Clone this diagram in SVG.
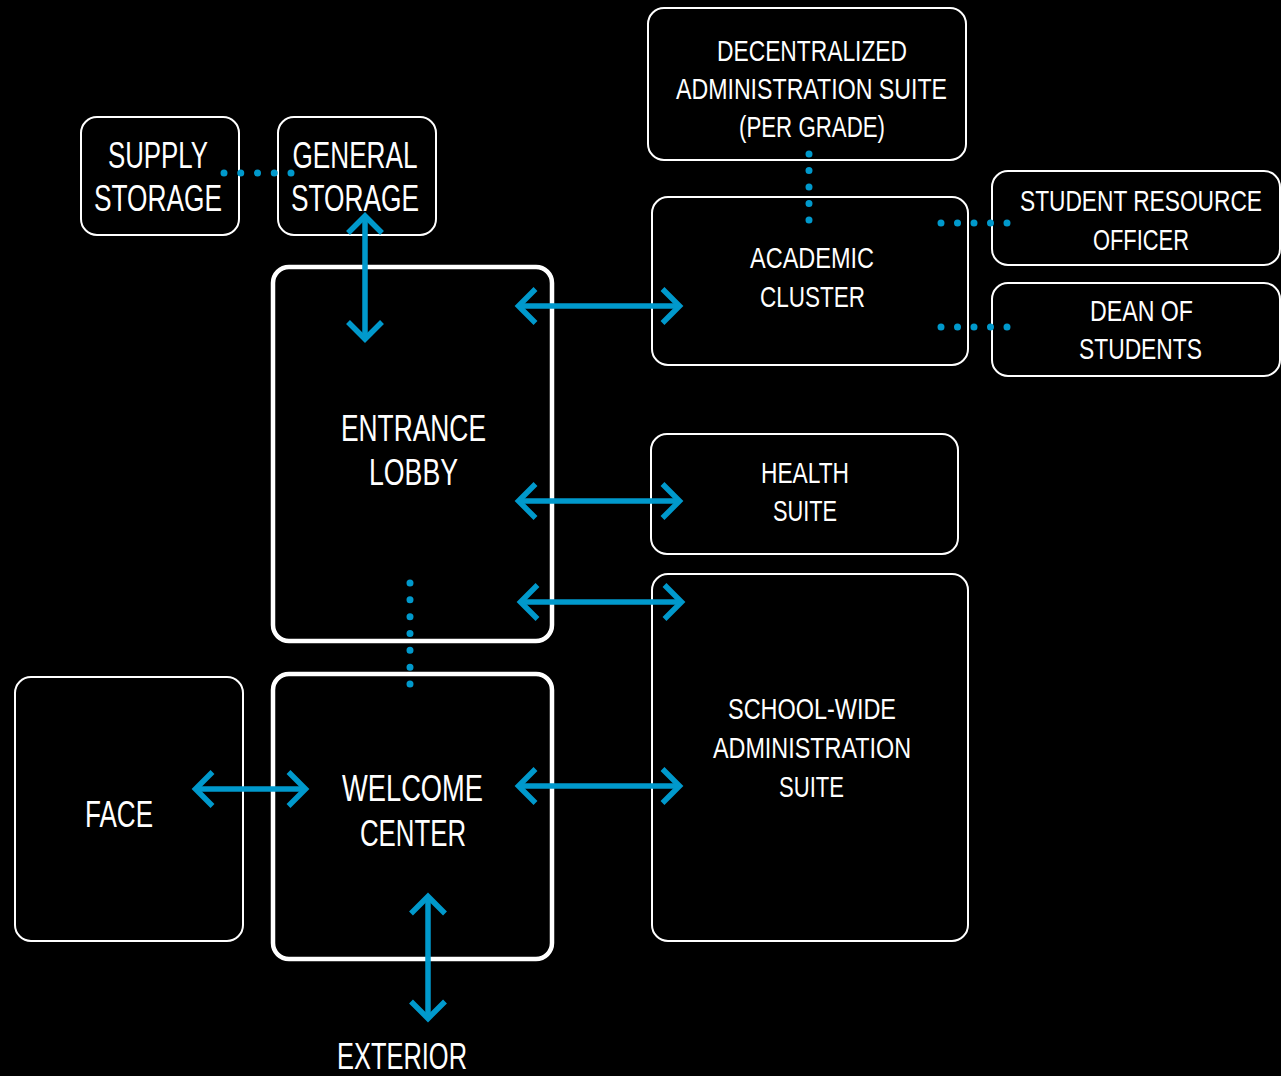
<svg xmlns="http://www.w3.org/2000/svg" width="1281" height="1076" viewBox="0 0 1281 1076">
  <style>
    .box { fill: #000; stroke: #fff; stroke-width: 2; }
    .main { fill: #000; stroke: #fff; stroke-width: 4.5; }
    text { font-family: "Liberation Sans", Arial, sans-serif; fill: #fff; text-anchor: middle; }
    .lg { font-size: 37px; }
    .sm { font-size: 30px; }
    .arrow { fill: none; stroke: #0099cc; stroke-width: 5.5; marker-start: url(#chev); marker-end: url(#chev); }
    .dots { fill: none; stroke: #0099cc; stroke-width: 7; stroke-linecap: round; }
  </style>
  <defs>
    <marker id="chev" markerUnits="userSpaceOnUse" markerWidth="40" markerHeight="50" viewBox="-30 -25 40 50" refX="0" refY="0" orient="auto-start-reverse">
      <path d="M-17,-17 L0,0 L-17,17" fill="none" stroke="#0099cc" stroke-width="5.5" stroke-linejoin="miter"/>
    </marker>
  </defs>

  <rect width="1281" height="1076" fill="#000"/>

  <g id="supply-storage">
    <rect class="box" x="81" y="117" width="158" height="118" rx="16"/>
    <text class="lg" x="158" y="168" textLength="100" lengthAdjust="spacingAndGlyphs">SUPPLY</text>
    <text class="lg" x="158" y="211" textLength="128" lengthAdjust="spacingAndGlyphs">STORAGE</text>
  </g>

  <g id="general-storage">
    <rect class="box" x="278" y="117" width="158" height="118" rx="16"/>
    <text class="lg" x="355" y="168" textLength="125" lengthAdjust="spacingAndGlyphs">GENERAL</text>
    <text class="lg" x="355" y="211" textLength="128" lengthAdjust="spacingAndGlyphs">STORAGE</text>
  </g>

  <g id="entrance-lobby">
    <rect class="main" x="273" y="267" width="279" height="374" rx="16"/>
    <text class="lg" x="413.5" y="441" textLength="145" lengthAdjust="spacingAndGlyphs">ENTRANCE</text>
    <text class="lg" x="413.5" y="485" textLength="89" lengthAdjust="spacingAndGlyphs">LOBBY</text>
  </g>

  <g id="welcome-center">
    <rect class="main" x="273" y="674" width="279" height="285" rx="16"/>
    <text class="lg" x="412.5" y="801" textLength="141" lengthAdjust="spacingAndGlyphs">WELCOME</text>
    <text class="lg" x="413" y="846" textLength="106" lengthAdjust="spacingAndGlyphs">CENTER</text>
  </g>

  <g id="face">
    <rect class="box" x="15" y="677" width="228" height="264" rx="16"/>
    <text class="lg" x="119" y="827" textLength="68" lengthAdjust="spacingAndGlyphs">FACE</text>
  </g>

  <g id="exterior">
    <text class="lg" x="402" y="1069" textLength="130" lengthAdjust="spacingAndGlyphs">EXTERIOR</text>
  </g>

  <g id="decentralized-admin">
    <rect class="box" x="648" y="8" width="318" height="152" rx="16"/>
    <text class="sm" x="812" y="61" textLength="190" lengthAdjust="spacingAndGlyphs">DECENTRALIZED</text>
    <text class="sm" x="811.5" y="99" textLength="271" lengthAdjust="spacingAndGlyphs">ADMINISTRATION SUITE</text>
    <text class="sm" x="812" y="137" textLength="146" lengthAdjust="spacingAndGlyphs">(PER GRADE)</text>
  </g>

  <g id="academic-cluster">
    <rect class="box" x="652" y="197" width="316" height="168" rx="16"/>
    <text class="sm" x="812" y="268" textLength="124" lengthAdjust="spacingAndGlyphs">ACADEMIC</text>
    <text class="sm" x="812.5" y="307" textLength="105" lengthAdjust="spacingAndGlyphs">CLUSTER</text>
  </g>

  <g id="student-resource-officer">
    <rect class="box" x="992" y="171" width="288" height="94" rx="16"/>
    <text class="sm" x="1141" y="211" textLength="242" lengthAdjust="spacingAndGlyphs">STUDENT RESOURCE</text>
    <text class="sm" x="1141" y="250" textLength="96" lengthAdjust="spacingAndGlyphs">OFFICER</text>
  </g>

  <g id="dean-of-students">
    <rect class="box" x="992" y="283" width="288" height="93" rx="16"/>
    <text class="sm" x="1141.5" y="321" textLength="103" lengthAdjust="spacingAndGlyphs">DEAN OF</text>
    <text class="sm" x="1140.5" y="359" textLength="123" lengthAdjust="spacingAndGlyphs">STUDENTS</text>
  </g>

  <g id="health-suite">
    <rect class="box" x="651" y="434" width="307" height="120" rx="16"/>
    <text class="sm" x="805" y="483" textLength="88" lengthAdjust="spacingAndGlyphs">HEALTH</text>
    <text class="sm" x="805" y="521" textLength="64" lengthAdjust="spacingAndGlyphs">SUITE</text>
  </g>

  <g id="school-wide-admin">
    <rect class="box" x="652" y="574" width="316" height="367" rx="16"/>
    <text class="sm" x="812" y="719" textLength="168" lengthAdjust="spacingAndGlyphs">SCHOOL-WIDE</text>
    <text class="sm" x="812" y="758" textLength="198" lengthAdjust="spacingAndGlyphs">ADMINISTRATION</text>
    <text class="sm" x="811.5" y="797" textLength="65" lengthAdjust="spacingAndGlyphs">SUITE</text>
  </g>

  <g id="connectors">
    <!-- two-way circulation links -->
    <line class="arrow" x1="365" y1="216" x2="365" y2="339"/>
    <line class="arrow" x1="518.5" y1="306" x2="679.5" y2="306"/>
    <line class="arrow" x1="518.5" y1="501" x2="679.5" y2="501"/>
    <line class="arrow" x1="520.5" y1="602" x2="681.5" y2="602"/>
    <line class="arrow" x1="518.5" y1="786" x2="679.5" y2="786"/>
    <line class="arrow" x1="195.5" y1="789" x2="305.5" y2="789"/>
    <line class="arrow" x1="428" y1="896.5" x2="428" y2="1018.5"/>
    <!-- adjacency links (dotted); each line runs a hair past its last dot -->
    <line class="dots" x1="224" y1="173" x2="291.5" y2="173" stroke-dasharray="0 16.75"/>
    <line class="dots" x1="809" y1="154" x2="809" y2="220.5" stroke-dasharray="0 16.5"/>
    <line class="dots" x1="941" y1="223" x2="1007.5" y2="223" stroke-dasharray="0 16.5"/>
    <line class="dots" x1="941" y1="327" x2="1007.5" y2="327" stroke-dasharray="0 16.5"/>
    <line class="dots" x1="410" y1="583" x2="410" y2="684.5" stroke-dasharray="0 16.83"/>
  </g>
</svg>
